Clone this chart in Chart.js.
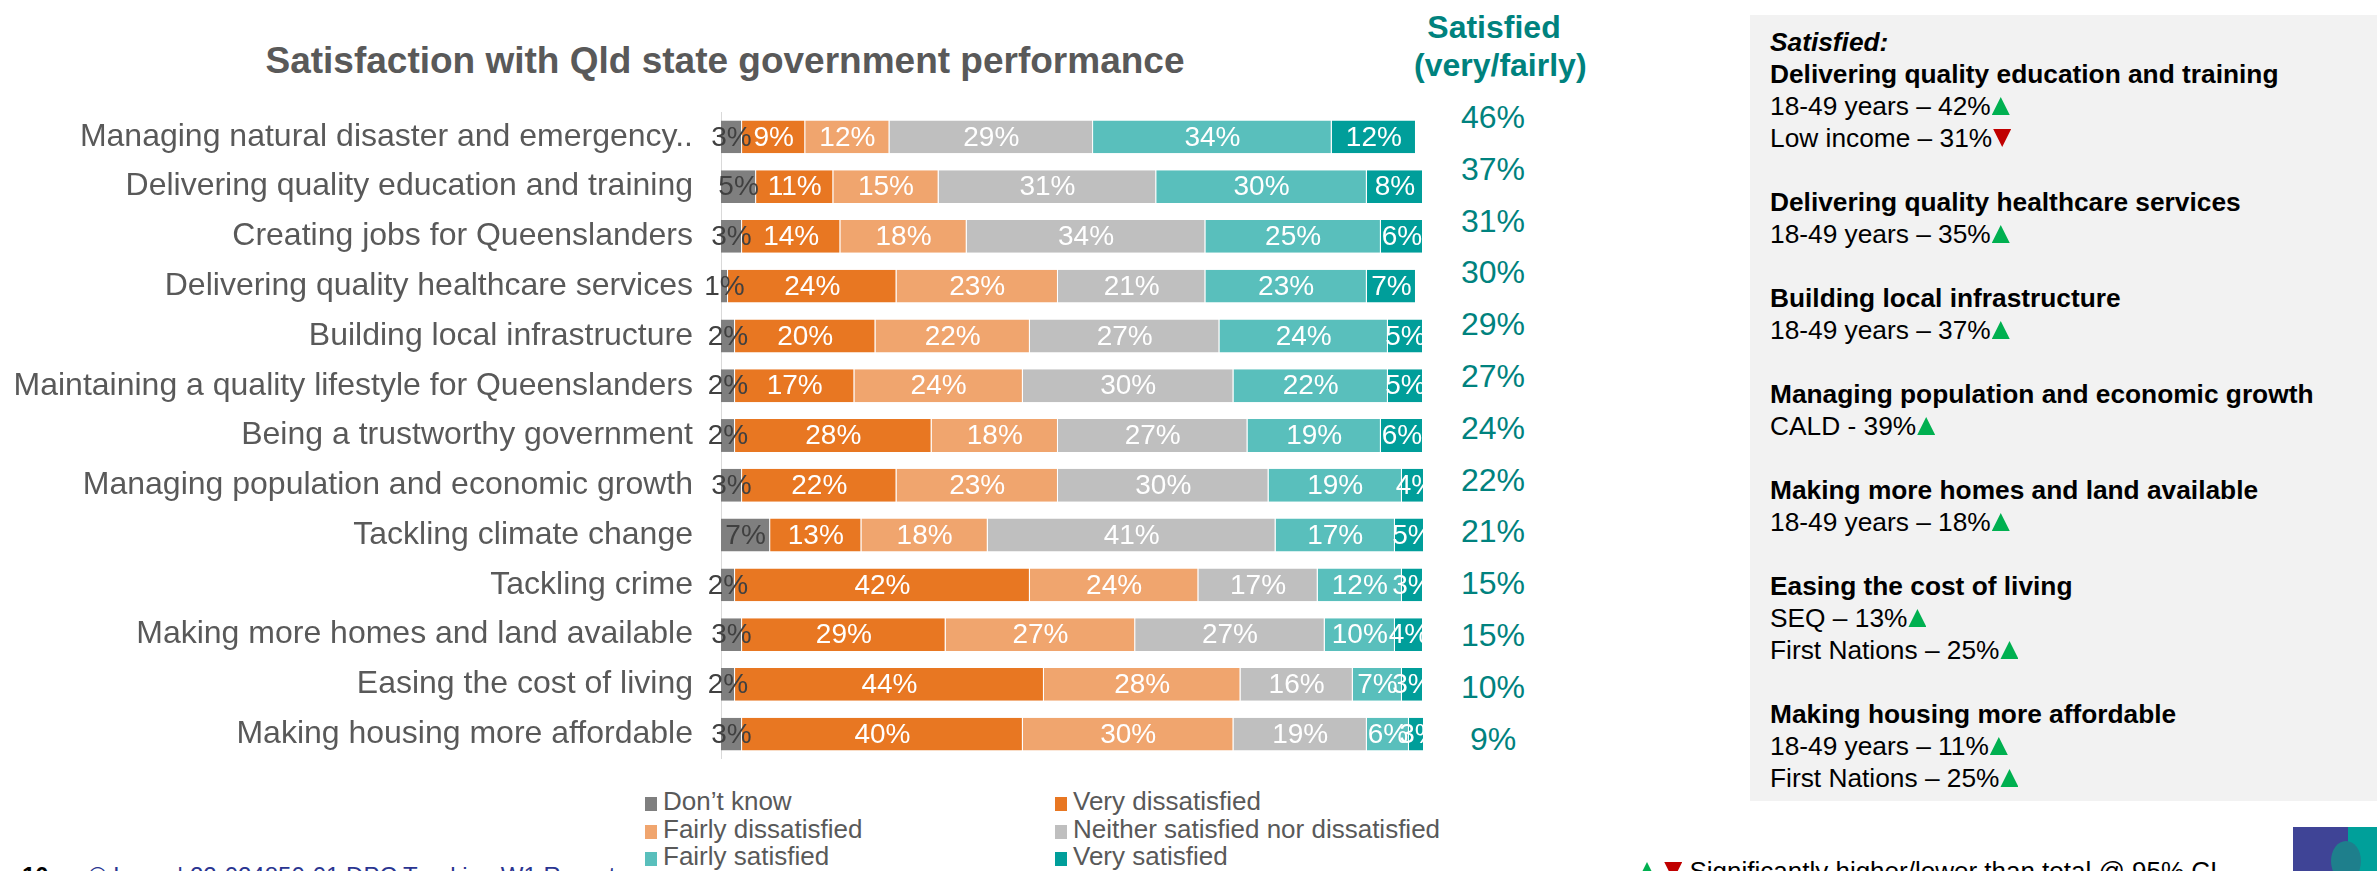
<!DOCTYPE html>
<html>
<head>
<meta charset="utf-8">
<script src="https://cdn.jsdelivr.net/npm/chart.js@4"></script>
<style>
  html, body { margin: 0; padding: 0; }
  body {
    width: 2377px; height: 871px; overflow: hidden; position: relative;
    background: #fff; font-family: "Liberation Sans", Arial, sans-serif;
  }
  .abs { position: absolute; }
  #title {
    left: 0; width: 1450px; top: 40px; text-align: center;
    font-size: 37px; font-weight: bold; color: #595959; line-height: 42px;
  }
  #satHead {
    left: 1414px; width: 160px; top: 8px; text-align: center;
    font-size: 32px; font-weight: bold; color: #00827e; line-height: 38px;
  }
  #satCol { left: 1433px; width: 120px; top: 92px; }
  #satCol div {
    height: 51.8px; line-height: 51.8px; text-align: center;
    font-size: 32px; color: #00827e;
  }
  #chartBox { left: 0; top: 112px; width: 1423px; height: 647px; }
  #legend {
    left: 645px; top: 788px; display: grid;
    grid-template-columns: 410px 420px; font-size: 26px; color: #595959;
  }
  #legend div { height: 27.5px; line-height: 27.5px; white-space: nowrap; }
  #legend span {
    display: inline-block; width: 12px; height: 14px; margin-right: 6px;
    vertical-align: -1px;
  }
  #panel {
    left: 1750px; top: 15px; width: 627px; height: 786px; background: #f2f2f2;
    box-sizing: border-box; padding: 11px 0 0 20px; color: #000;
    font-size: 26.3px; line-height: 32px;
  }
  #panel .b { font-weight: bold; }
  #panel .it { font-weight: bold; font-style: italic; }
  #panel .gap { height: 32px; }
  .up, .dn {
    display: inline-block; width: 18px; height: 18px; margin-left: 1px;
    vertical-align: 0px;
  }
  .up { background: #00b050; clip-path: polygon(50% 0, 100% 100%, 0 100%); }
  .dn { background: #c00000; clip-path: polygon(0 0, 100% 0, 50% 100%); }
  #footer { left: 22px; top: 862px; font-size: 24px; line-height: 28px; white-space: nowrap; }
  #footer b { color: #000; margin-right: 40px; }
  #footer span { color: #2a3591; }
  #note { left: 1637px; top: 856px; font-size: 26px; line-height: 30px; color: #000; white-space: nowrap; }
  #logo { left: 2293px; top: 827px; width: 84px; height: 44px; background: #3f4496; overflow: hidden; }
  #logo i { position: absolute; left: 55px; top: 0; width: 29px; height: 44px; background: #00a09a; }
  #logo u { position: absolute; left: 38px; top: 14px; width: 30px; height: 40px; border-radius: 50%; background: #1e7f8c; }
</style>
</head>
<body>
<div id="title" class="abs">Satisfaction with Qld state government performance</div>
<div id="satHead" class="abs">Satisfied<br>(very/fairly)</div>
<div id="satCol" class="abs"></div>
<div id="chartBox" class="abs"><canvas id="chart"></canvas></div>
<div id="legend" class="abs"></div>

<div id="panel" class="abs">
  <div class="it">Satisfied:</div>
  <div class="b">Delivering quality education and training</div>
  <div>18-49 years – 42%<span class="up"></span></div>
  <div>Low income – 31%<span class="dn"></span></div>
  <div class="gap"></div>
  <div class="b">Delivering quality healthcare services</div>
  <div>18-49 years – 35%<span class="up"></span></div>
  <div class="gap"></div>
  <div class="b">Building local infrastructure</div>
  <div>18-49 years – 37%<span class="up"></span></div>
  <div class="gap"></div>
  <div class="b">Managing population and economic growth</div>
  <div>CALD - 39%<span class="up"></span></div>
  <div class="gap"></div>
  <div class="b">Making more homes and land available</div>
  <div>18-49 years – 18%<span class="up"></span></div>
  <div class="gap"></div>
  <div class="b">Easing the cost of living</div>
  <div>SEQ – 13%<span class="up"></span></div>
  <div>First Nations – 25%<span class="up"></span></div>
  <div class="gap"></div>
  <div class="b">Making housing more affordable</div>
  <div>18-49 years – 11%<span class="up"></span></div>
  <div>First Nations – 25%<span class="up"></span></div>
</div>

<div id="footer" class="abs"><b>10</b><span>© Ipsos | 22-024850-01 DPC Tracking W1 Report</span></div>
<div id="note" class="abs"><span class="up"></span> <span class="dn"></span> Significantly higher/lower than total @ 95% CI</div>
<div id="logo" class="abs"><i></i><u></u></div>

<script>
const categories = [
  "Managing natural disaster and emergency..",
  "Delivering quality education and training",
  "Creating jobs for Queenslanders",
  "Delivering quality healthcare services",
  "Building local infrastructure",
  "Maintaining a quality lifestyle for Queenslanders",
  "Being a trustworthy government",
  "Managing population and economic growth",
  "Tackling climate change",
  "Tackling crime",
  "Making more homes and land available",
  "Easing the cost of living",
  "Making housing more affordable"
];

const dontKnow = [3, 5, 3, 1, 2, 2, 2, 3, 7, 2, 3, 2, 3];
const veryDissatisfied = [9, 11, 14, 24, 20, 17, 28, 22, 13, 42, 29, 44, 40];
const fairlyDissatisfied = [12, 15, 18, 23, 22, 24, 18, 23, 18, 24, 27, 28, 30];
const neither = [29, 31, 34, 21, 27, 30, 27, 30, 41, 17, 27, 16, 19];
const fairlySatisfied = [34, 30, 25, 23, 24, 22, 19, 19, 17, 12, 10, 7, 6];
const verySatisfied = [12, 8, 6, 7, 5, 5, 6, 4, 5, 3, 4, 3, 3];

const satisfiedTotal = [46, 37, 31, 30, 29, 27, 24, 22, 21, 15, 15, 10, 9];

const series = [
  { label: "Don\u2019t know", data: dontKnow, color: "#7f7f7f", text: "#404040" },
  { label: "Very dissatisfied", data: veryDissatisfied, color: "#e87722", text: "#ffffff" },
  { label: "Fairly dissatisfied", data: fairlyDissatisfied, color: "#f0a56e", text: "#ffffff" },
  { label: "Neither satisfied nor dissatisfied", data: neither, color: "#bfbfbf", text: "#ffffff" },
  { label: "Fairly satisfied", data: fairlySatisfied, color: "#59bfbc", text: "#ffffff" },
  { label: "Very satisfied", data: verySatisfied, color: "#009e9a", text: "#ffffff" }
];

const FONT = '"Liberation Sans", Arial, sans-serif';

// percentage text centred on each segment, cut off at the right end of the bars
const segmentLabels = {
  id: "segmentLabels",
  afterDatasetsDraw(chart) {
    const ctx = chart.ctx;
    const area = chart.chartArea;
    ctx.save();
    ctx.beginPath();
    ctx.rect(0, 0, area.right, chart.height);
    ctx.clip();
    ctx.font = "28px " + FONT;
    ctx.textAlign = "center";
    ctx.textBaseline = "middle";
    chart.data.datasets.forEach((ds, i) => {
      const meta = chart.getDatasetMeta(i);
      meta.data.forEach((bar, j) => {
        ctx.fillStyle = ds.labelColor;
        ctx.fillText(ds.data[j] + "%", (bar.x + bar.base) / 2, bar.y + 1);
      });
    });
    ctx.restore();
  }
};

const chart = new Chart(document.getElementById("chart"), {
  type: "bar",
  data: {
    labels: categories,
    datasets: series.map((s) => ({
      label: s.label,
      data: s.data,
      backgroundColor: s.color,
      labelColor: s.text,
      borderColor: "rgba(255,255,255,0.6)",
      borderWidth: { top: 0, bottom: 0, left: 0, right: 1 },
      borderSkipped: false,
      barPercentage: 0.66,
      categoryPercentage: 1
    }))
  },
  options: {
    indexAxis: "y",
    responsive: true,
    maintainAspectRatio: false,
    animation: false,
    layout: { padding: 0 },
    plugins: {
      legend: { display: false },
      tooltip: { enabled: false }
    },
    scales: {
      x: { stacked: true, min: 0, max: 100, display: false },
      y: {
        stacked: true,
        grid: { display: false, drawTicks: false },
        border: { display: true, color: "#d9d9d9", width: 1 },
        ticks: { color: "#595959", font: { family: FONT, size: 32 }, padding: 28, autoSkip: false },
        afterFit: (scale) => {
          // fixed label column, and no extra room above/below the rows
          scale.width = 721;
          scale.paddingTop = 0;
          scale.paddingBottom = 0;
        }
      }
    }
  },
  plugins: [segmentLabels]
});

// satisfied (very/fairly) column
const satCol = document.getElementById("satCol");
satisfiedTotal.forEach((v) => {
  const d = document.createElement("div");
  d.textContent = v + "%";
  satCol.appendChild(d);
});

// legend in two columns, same order as the datasets
const legend = document.getElementById("legend");
chart.data.datasets.forEach((ds) => {
  const item = document.createElement("div");
  const box = document.createElement("span");
  box.style.background = ds.backgroundColor;
  item.appendChild(box);
  item.appendChild(document.createTextNode(ds.label));
  legend.appendChild(item);
});
</script>
</body>
</html>
